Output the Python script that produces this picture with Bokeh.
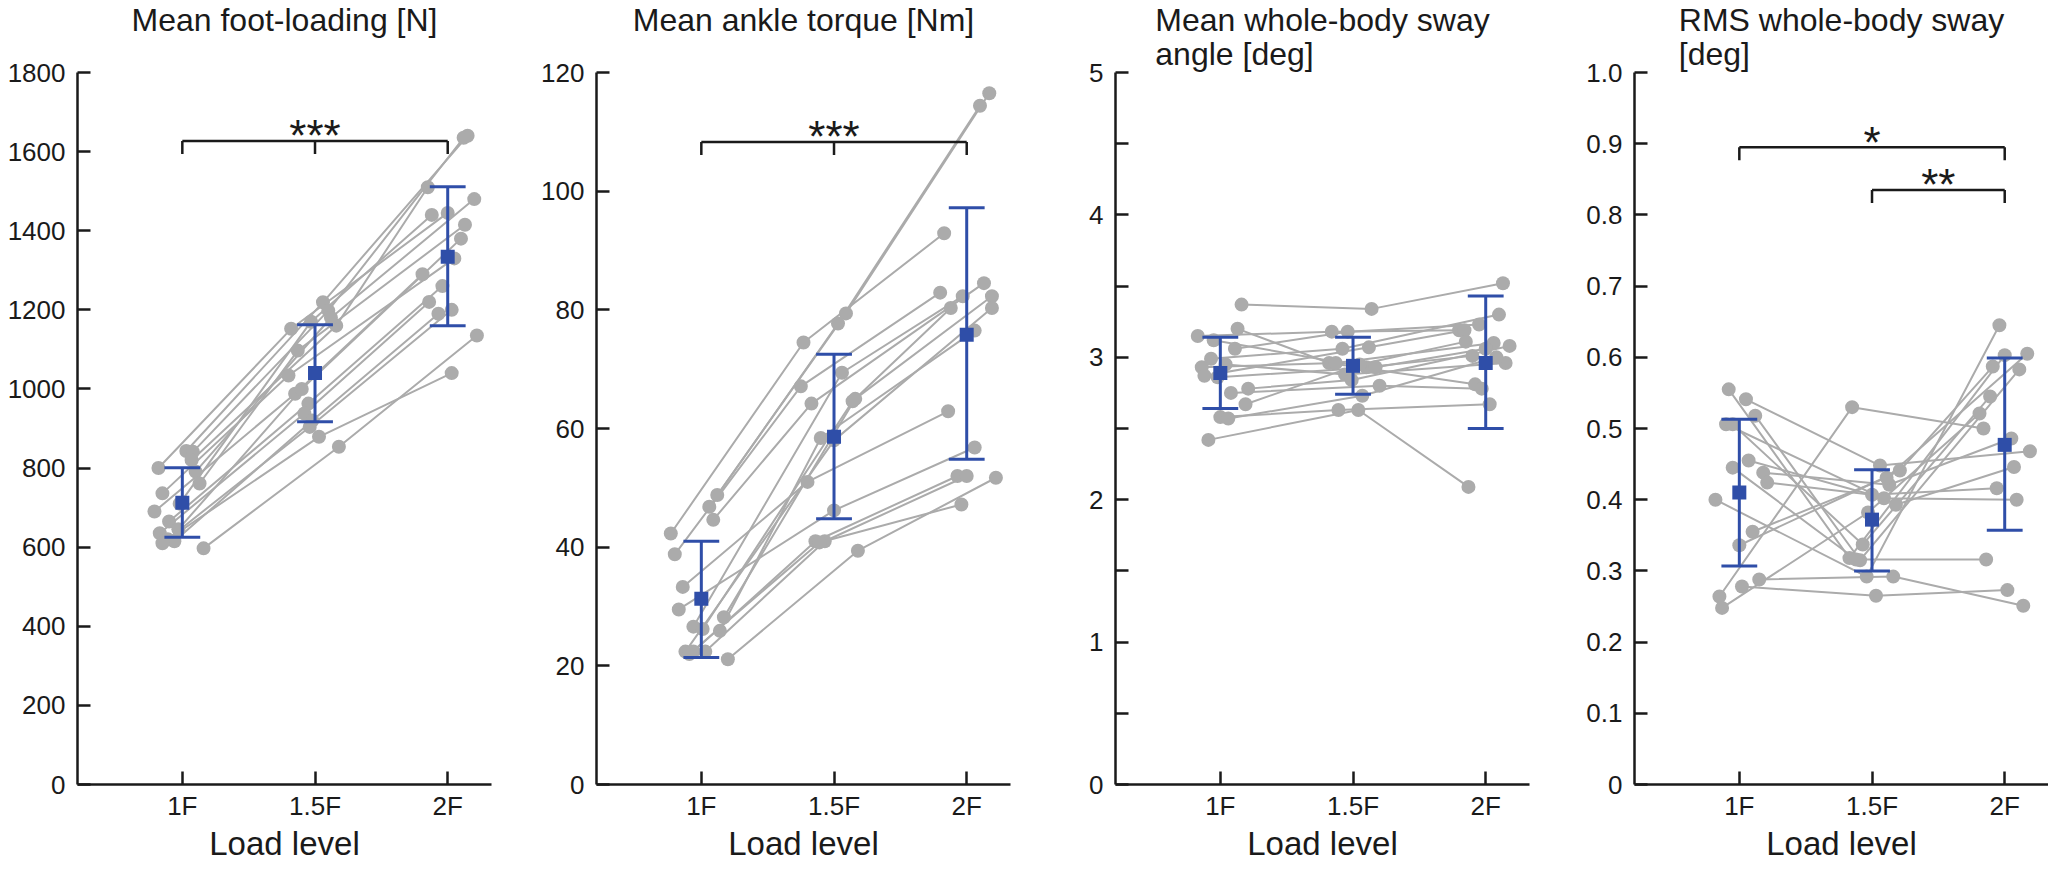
from bokeh.plotting import figure
from bokeh.models import Range1d, FixedTicker, ColumnDataSource
from bokeh.layouts import row
from bokeh.embed import file_html
from bokeh.resources import INLINE
from bokeh.core.properties import value

# ---------------- data ----------------
levels = [1, 2, 3]
level_labels = ["1F", "1.5F", "2F"]

titles = ["Mean foot-loading [N]\n\u00a0", "Mean ankle torque [Nm]\n\u00a0",
          "Mean whole-body sway\nangle [deg]", "RMS whole-body sway\n[deg]"]

# Panel 1: mean foot-loading [N]
p1_1f = [843, 841, 820, 800, 791, 761, 736, 710, 690, 665, 645, 635, 620, 615, 610, 597]
p1_15f = [1219, 1198, 1160, 1152, 1180, 1097, 1034, 1170, 988, 963, 1000, 938, 904, 920, 879, 854]
p1_2f = [1640, 1635, 1510, 1445, 1480, 1415, 1330, 1440, 1290, 1260, 1380, 1220, 1200, 1190, 1040, 1135]
p1_j1 = [0.03, 0.08, 0.07, -0.18, 0.10, 0.13, -0.15, -0.02, -0.21, -0.10, -0.03, -0.17, -0.11, -0.06, -0.15, 0.16]
p1_j15 = [0.06, 0.10, 0.16, -0.18, 0.12, -0.13, -0.20, -0.03, -0.15, -0.05, -0.10, -0.08, -0.04, -0.02, 0.03, 0.18]
p1_j2 = [0.15, 0.12, -0.15, 0.00, 0.20, 0.13, 0.05, -0.12, -0.19, -0.04, 0.10, -0.14, 0.03, -0.07, 0.03, 0.22]
p1_mean = [712, 1040, 1334]
p1_lo = [625, 917, 1160]
p1_hi = [801, 1162, 1511]

# Panel 2: mean ankle torque [Nm]
p2_1f = [42.3, 48.8, 46.8, 38.8, 44.6, 33.3, 29.5, 26.6, 26.2, 28.2, 25.9, 22.4, 22.4, 22.4, 21.1, 22.0]
p2_15f = [74.5, 79.4, 77.7, 67.1, 64.2, 51.0, 46.2, 69.4, 64.6, 65.0, 58.4, 58.0, 41.0, 41.0, 39.4, 40.8]
p2_2f = [92.9, 116.5, 114.4, 82.9, 84.5, 62.9, 56.8, 82.3, 80.3, 82.3, 76.5, 80.3, 52.0, 52.0, 51.7, 47.2]
p2_j1 = [-0.23, 0.12, 0.06, -0.20, 0.09, -0.14, -0.17, -0.06, 0.01, 0.17, 0.14, -0.12, -0.06, 0.03, 0.20, -0.09]
p2_j15 = [-0.23, 0.09, 0.03, -0.25, -0.17, -0.20, 0.00, 0.06, 0.14, 0.16, -0.10, 0.00, -0.14, -0.07, 0.18, -0.11]
p2_j2 = [-0.17, 0.17, 0.10, -0.20, 0.13, -0.14, 0.06, -0.03, -0.12, 0.19, 0.06, 0.19, -0.07, 0.00, 0.22, -0.04]
p2_mean = [31.3, 58.6, 75.8]
p2_lo = [21.4, 44.8, 54.8]
p2_hi = [41.0, 72.5, 97.2]

# Panel 3: mean whole-body sway angle [deg]
p3_1f = [3.37, 3.20, 3.15, 3.12, 3.06, 2.99, 2.95, 2.93, 2.87, 2.86, 2.78, 2.75, 2.67, 2.58, 2.57, 2.42]
p3_15f = [3.34, 2.96, 3.18, 2.93, 3.18, 3.06, 2.88, 2.96, 3.07, 2.93, 2.84, 2.80, 2.95, 2.63, 2.73, 2.63]
p3_2f = [3.52, 2.81, 3.19, 3.01, 3.23, 3.30, 2.96, 3.10, 3.19, 3.06, 3.08, 2.78, 3.11, 2.67, 3.00, 2.09]
p3_j1 = [0.16, 0.13, -0.17, -0.05, 0.11, -0.07, 0.04, -0.14, -0.12, -0.02, 0.21, 0.08, 0.19, 0.00, 0.06, -0.09]
p3_j15 = [0.14, -0.18, -0.16, 0.10, -0.04, -0.08, -0.06, -0.13, 0.12, 0.17, -0.01, 0.20, 0.05, -0.11, 0.07, 0.04]
p3_j2 = [0.13, -0.08, -0.20, -0.10, -0.05, 0.10, 0.15, 0.06, -0.16, 0.00, 0.18, -0.03, -0.15, 0.03, 0.08, -0.13]
p3_mean = [2.89, 2.94, 2.96]
p3_lo = [2.64, 2.74, 2.50]
p3_hi = [3.14, 3.14, 3.43]

# Panel 4: RMS whole-body sway [deg]
p4_1f = [0.555, 0.541, 0.518, 0.506, 0.506, 0.455, 0.445, 0.438, 0.424, 0.400, 0.355, 0.336, 0.288, 0.278, 0.264, 0.248]
p4_15f = [0.318, 0.448, 0.315, 0.393, 0.337, 0.402, 0.316, 0.421, 0.407, 0.292, 0.431, 0.441, 0.292, 0.265, 0.530, 0.382]
p4_2f = [0.603, 0.468, 0.583, 0.446, 0.545, 0.400, 0.316, 0.486, 0.416, 0.645, 0.605, 0.587, 0.251, 0.273, 0.500, 0.521]
p4_j1 = [-0.08, 0.05, 0.12, -0.10, -0.05, 0.07, -0.05, 0.18, 0.21, -0.18, 0.10, 0.00, 0.15, 0.02, -0.15, -0.13]
p4_j15 = [-0.17, 0.06, -0.09, 0.18, -0.07, 0.09, -0.12, 0.13, 0.00, -0.04, 0.11, 0.21, 0.16, 0.03, -0.15, -0.03]
p4_j2 = [0.00, 0.19, 0.11, 0.07, -0.11, 0.09, -0.14, 0.05, -0.06, -0.04, 0.17, -0.09, 0.14, 0.02, -0.16, -0.19]
p4_mean = [0.410, 0.372, 0.477]
p4_lo = [0.307, 0.300, 0.357]
p4_hi = [0.513, 0.442, 0.599]

# y axes
p1_yticks = [0, 200, 400, 600, 800, 1000, 1200, 1400, 1600, 1800]
p2_yticks = [0, 20, 40, 60, 80, 100, 120]
p3_yticks = [0, 0.5, 1, 1.5, 2, 2.5, 3, 3.5, 4, 4.5, 5]
p3_ylabels = ["0", "", "1", "", "2", "", "3", "", "4", "", "5"]
p4_yticks = [0, 0.1, 0.2, 0.3, 0.4, 0.5, 0.6, 0.7, 0.8, 0.9, 1.0]
p4_ylabels = ["0", "0.1", "0.2", "0.3", "0.4", "0.5", "0.6", "0.7", "0.8", "0.9", "1.0"]

# significance brackets: (from level, to level, height, stars, star x, middle tick)
p1_brackets = [(1, 3, 1627, "***", 2, True)]
p2_brackets = [(1, 3, 108.3, "***", 2, True)]
p3_brackets = []
p4_brackets = [(1, 3, 0.895, "*", 2, False), (2, 3, 0.835, "**", 2.5, False)]

# ---------------- style ----------------
FONT = "Liberation Sans"
GRAY = "#ababab"
BLUE = "#2f4ea8"
INK = "#1a1a1a"
FRAME_W = 414
FRAME_H = 712
TICK_PX = 13
X0, X1 = 0.21, 3.33


def make_panel(title, ymax, yticks, ylabels, v1, v15, v2, j1, j15, j2,
               mean, lo, hi, brackets, right_border):
    p = figure(frame_width=FRAME_W, frame_height=FRAME_H,
               x_range=Range1d(X0, X1), y_range=Range1d(0, ymax),
               output_backend="svg", toolbar_location=None,
               min_border_left=77, min_border_right=right_border,
               min_border_top=68, min_border_bottom=73)
    p.outline_line_color = None
    p.grid.visible = False
    p.background_fill_color = "white"
    p.border_fill_color = "white"

    p.title.text = title
    p.title.text_font = FONT
    p.title.text_font_size = "32px"
    p.title.text_font_style = "normal"
    p.title.text_color = INK
    p.title.align = "center"
    p.title.text_line_height = 0.95
    p.title.standoff = 0

    xs = [[1 + a, 2 + b, 3 + c] for a, b, c in zip(j1, j15, j2)]
    ys = [[a, b, c] for a, b, c in zip(v1, v15, v2)]
    p.multi_line(xs=xs, ys=ys, line_color=GRAY, line_width=2)
    px = [1 + a for a in j1] + [2 + b for b in j15] + [3 + c for c in j2]
    py = list(v1) + list(v15) + list(v2)
    p.scatter(px, py, size=14, marker="circle", fill_color=GRAY, line_color=None)

    cap = 0.135
    src = ColumnDataSource(dict(x=levels, m=mean, lo=lo, hi=hi,
                                xl=[x - cap for x in levels], xr=[x + cap for x in levels]))
    p.segment(x0="x", y0="lo", x1="x", y1="hi", source=src, line_color=BLUE, line_width=3)
    p.segment(x0="xl", y0="hi", x1="xr", y1="hi", source=src, line_color=BLUE, line_width=3)
    p.segment(x0="xl", y0="lo", x1="xr", y1="lo", source=src, line_color=BLUE, line_width=3)
    p.scatter(x="x", y="m", source=src, marker="square", size=14,
              fill_color=BLUE, line_color=None)

    drop = TICK_PX * ymax / FRAME_H
    for (a, b, h, stars, sx, mid) in brackets:
        bx0 = [a, a, b]
        by0 = [h, h, h]
        bx1 = [b, a, b]
        by1 = [h, h - drop, h - drop]
        if mid:
            bx0.append(2); by0.append(h); bx1.append(2); by1.append(h - drop)
        p.segment(x0=bx0, y0=by0, x1=bx1, y1=by1, line_color=INK, line_width=2.5)
        p.text(x=[sx], y=[h], text=[stars], text_font=value(FONT),
               text_font_size="44px", text_align="center",
               text_baseline="alphabetic", y_offset=-5, text_color=INK)

    for ax in (p.xaxis[0], p.yaxis[0]):
        ax.axis_line_width = 2.5
        ax.axis_line_color = INK
        ax.major_tick_line_width = 2.5
        ax.major_tick_line_color = INK
        ax.major_tick_in = TICK_PX
        ax.major_tick_out = 0
        ax.minor_tick_line_color = None
        ax.major_label_text_font = FONT
        ax.major_label_text_font_size = "26px"
        ax.major_label_text_color = INK

    p.xaxis.ticker = FixedTicker(ticks=levels)
    p.xaxis.major_label_overrides = {lv: lab for lv, lab in zip(levels, level_labels)}
    p.xaxis.major_label_standoff = 6
    p.xaxis.axis_label = "Load level"
    p.xaxis.axis_label_text_font = FONT
    p.xaxis.axis_label_text_font_size = "33px"
    p.xaxis.axis_label_text_font_style = "normal"
    p.xaxis.axis_label_text_color = INK
    p.xaxis.axis_label_standoff = 1

    p.yaxis.ticker = FixedTicker(ticks=yticks)
    p.yaxis.major_label_overrides = {t: l for t, l in zip(yticks, ylabels)}
    p.yaxis.major_label_standoff = 12
    return p


f1 = make_panel(titles[0], 1800, p1_yticks, [str(t) for t in p1_yticks],
                p1_1f, p1_15f, p1_2f, p1_j1, p1_j15, p1_j2,
                p1_mean, p1_lo, p1_hi, p1_brackets, 28)
f2 = make_panel(titles[1], 120, p2_yticks, [str(t) for t in p2_yticks],
                p2_1f, p2_15f, p2_2f, p2_j1, p2_j15, p2_j2,
                p2_mean, p2_lo, p2_hi, p2_brackets, 28)
f3 = make_panel(titles[2], 5, p3_yticks, p3_ylabels,
                p3_1f, p3_15f, p3_2f, p3_j1, p3_j15, p3_j2,
                p3_mean, p3_lo, p3_hi, p3_brackets, 28)
f4 = make_panel(titles[3], 1.0, p4_yticks, p4_ylabels,
                p4_1f, p4_15f, p4_2f, p4_j1, p4_j15, p4_j2,
                p4_mean, p4_lo, p4_hi, p4_brackets, 0)

layout = row(f1, f2, f3, f4)
open("out.html", "w").write(file_html(layout, INLINE))
